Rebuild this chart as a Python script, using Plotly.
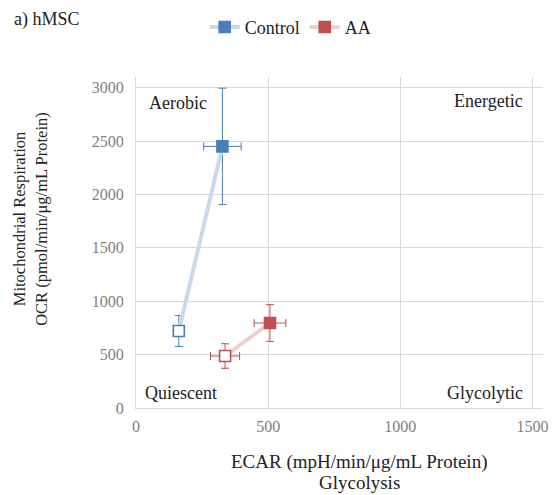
import plotly.graph_objects as go

# Data (filled marker first, then open marker)
ctrl_x = [327, 162]
ctrl_y = [2450, 721]
ctrl_ex = [71, 12]
ctrl_ey = [545, 145]

aa_x = [507, 337]
aa_y = [796, 487]
aa_ex = [60, 55]
aa_ey = [172, 115]

x_ticks = [0, 500, 1000, 1500]
y_ticks = [0, 500, 1000, 1500, 2000, 2500, 3000]

BLUE = "#4a7ebb"
RED = "#c0504d"
LBLUE = "#c9d8ea"
LRED = "#efcfcf"
FONT = "Liberation Serif"

fig = go.Figure()

for name, xs, ys, ex, ey, col, lcol in [
    ("Control", ctrl_x, ctrl_y, ctrl_ex, ctrl_ey, BLUE, LBLUE),
    ("AA", aa_x, aa_y, aa_ex, aa_ey, RED, LRED),
]:
    fig.add_trace(go.Scatter(
        x=xs, y=ys, name=name, mode="lines+markers",
        line=dict(color=lcol, width=4),
        marker=dict(symbol="square", size=11, color=[col, "white"],
                    line=dict(color=col, width=1.6)),
        error_x=dict(type="data", array=ex, color=col, thickness=1, width=4),
        error_y=dict(type="data", array=ey, color=col, thickness=1, width=4),
    ))

fig.update_layout(
    width=554, height=495,
    margin=dict(l=136, r=6, t=77, b=87),
    paper_bgcolor="white", plot_bgcolor="white",
    font=dict(family=FONT, size=16, color="#222222"),
    showlegend=True,
    legend=dict(orientation="h", x=0.38, xanchor="center", y=1.15, yanchor="middle",
                font=dict(family=FONT, size=18, color="#222222"), itemwidth=30),
    xaxis=dict(range=[0, 1540], tickvals=x_ticks, showgrid=True, gridcolor="#d9d9d9",
               gridwidth=1, zeroline=False, showline=True, linecolor="#d9d9d9",
               tickfont=dict(family=FONT, size=16, color="#808080"), ticks="", ticklen=0,
               ticklabelstandoff=4),
    yaxis=dict(range=[0, 3100], tickvals=y_ticks, showgrid=True, gridcolor="#d9d9d9",
               gridwidth=1, zeroline=False, showline=True, linecolor="#d9d9d9",
               tickfont=dict(family=FONT, size=16, color="#808080"), ticks="", ticklen=0,
               ticklabelstandoff=8),
)

ann_font = dict(family=FONT, size=18, color="#222222")
xt_font = dict(family=FONT, size=19, color="#222222")
yt_font = dict(family=FONT, size=16.5, color="#222222")
anns = [
    dict(text="a) hMSC", x=-0.305, y=1.175, xanchor="left", yanchor="middle"),
    dict(text="Aerobic", x=0.027, y=0.92, xanchor="left", yanchor="middle"),
    dict(text="Energetic", x=0.956, y=0.927, xanchor="right", yanchor="middle"),
    dict(text="Quiescent", x=0.016, y=0.045, xanchor="left", yanchor="middle"),
    dict(text="Glycolytic", x=0.956, y=0.045, xanchor="right", yanchor="middle"),
    dict(text="ECAR (mpH/min/μg/mL Protein)", x=0.548, y=-0.163,
         xanchor="center", yanchor="middle", font=xt_font),
    dict(text="Glycolysis", x=0.548, y=-0.225,
         xanchor="center", yanchor="middle", font=xt_font),
    dict(text="Mitochondrial Respiration", x=-0.286, y=0.572,
         xanchor="center", yanchor="middle", textangle=-90, font=yt_font),
    dict(text="OCR (pmol/min/μg/mL Protein)", x=-0.233, y=0.572,
         xanchor="center", yanchor="middle", textangle=-90, font=yt_font),
]
for a in anns:
    a.setdefault("font", ann_font)
    fig.add_annotation(xref="paper", yref="paper", showarrow=False, **a)

fig.write_html("out.html")
